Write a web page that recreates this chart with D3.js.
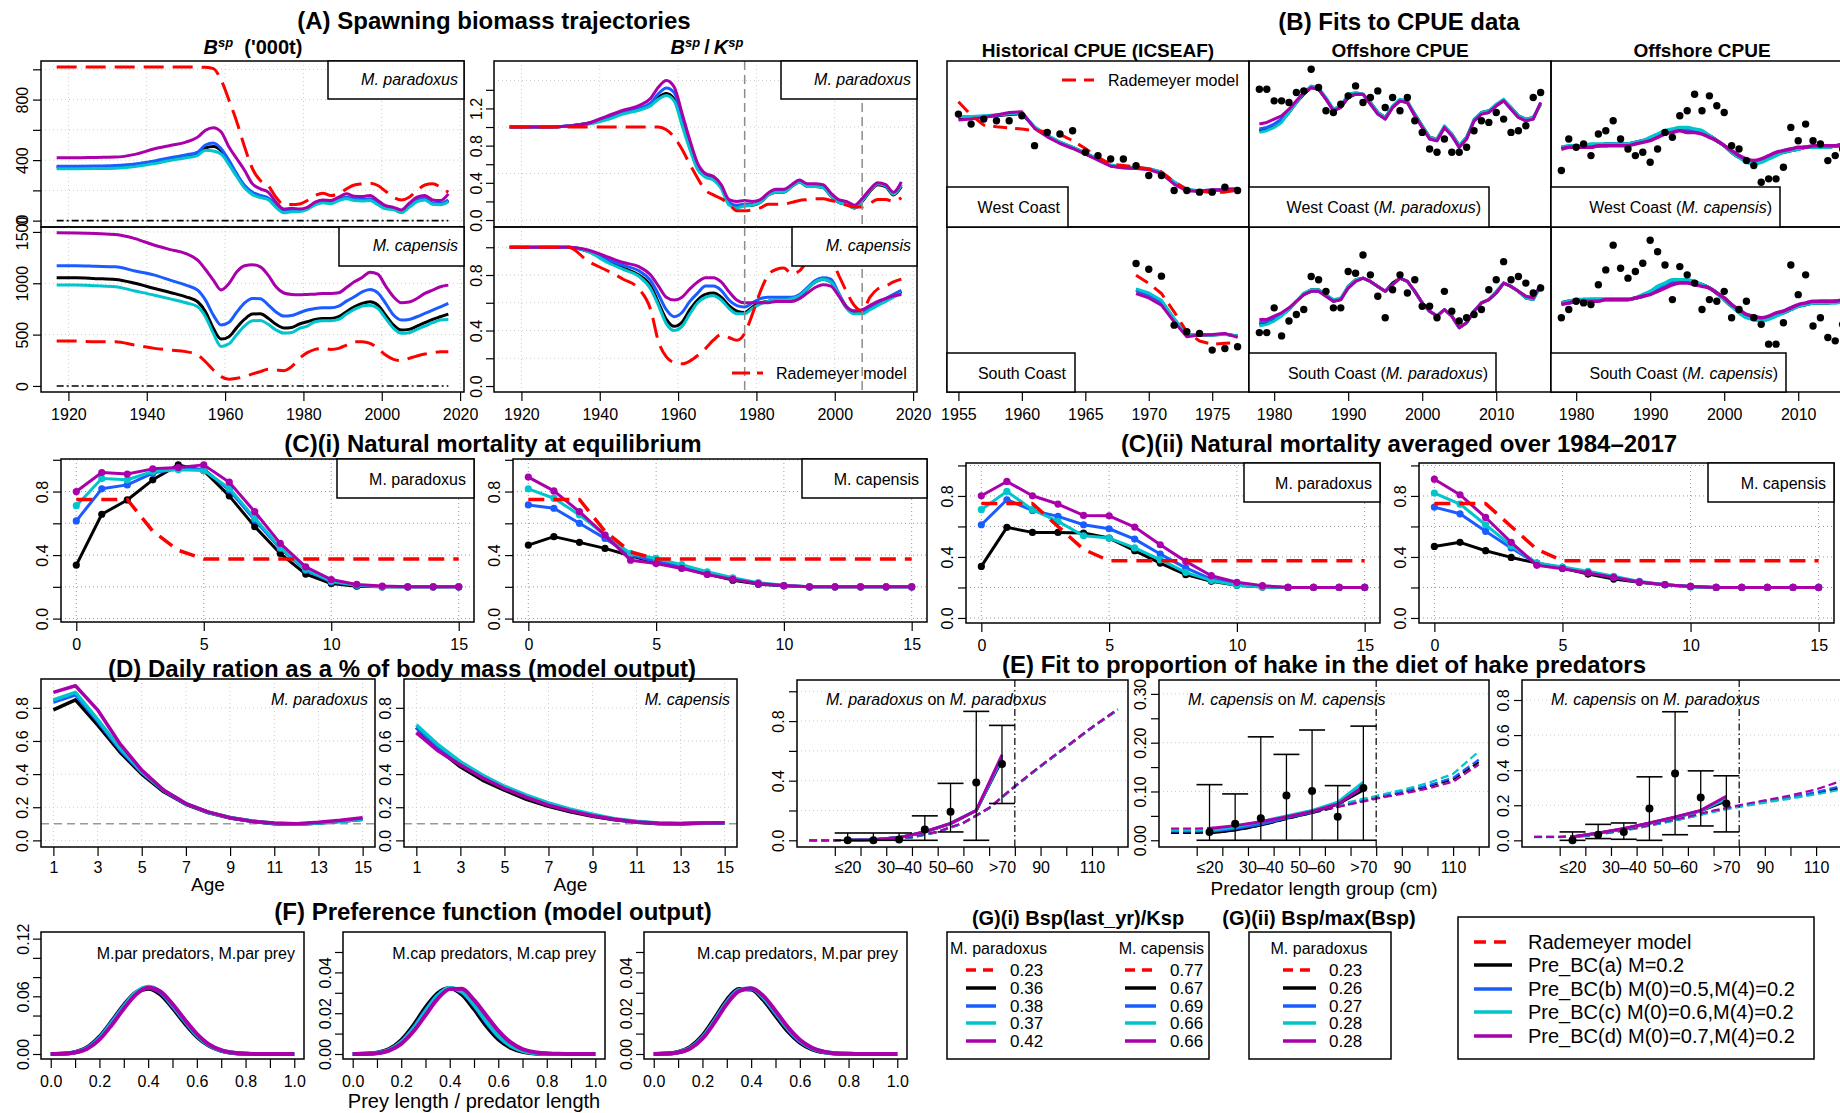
<!DOCTYPE html>
<html>
<head>
<meta charset="utf-8">
<title>Hake multispecies model: fits and outputs</title>
<script src="https://cdn.jsdelivr.net/npm/d3@7"></script>
<style>
body { margin: 0; background: #fff; }
text { font-family: "Liberation Sans", Arial, Helvetica, sans-serif; }
</style>
</head>
<body>
<div id="main"></div>
<script>
var WIDTH = 1840, HEIGHT = 1113;

// colours of the runs (Rademeyer, a, b, c, d)
var colRad = "#ff0000", colA = "#000000", colB = "#1a5cff", colC = "#00c5cd", colD = "#aa00aa";
var runColors = [colA, colB, colC, colD];
var runNames = ["Rademeyer model", "Pre_BC(a) M=0.2", "Pre_BC(b) M(0)=0.5,M(4)=0.2",
	"Pre_BC(c) M(0)=0.6,M(4)=0.2", "Pre_BC(d) M(0)=0.7,M(4)=0.2"];

// ---------- (A) spawning biomass ----------
var yearsA = [1917,1922,1927,1932,1937,1942,1946,1950,1953,1955,1957,1959,1961,1963,1965,1967,1969,1971,1973,1975,
	1977,1979,1981,1983,1985,1987,1989,1991,1993,1995,1997,1999,2001,2003,2005,2007,2009,2011,2013,2015,2017];
var bspParRad = [1015,1015,1015,1015,1015,1015,1015,1015,1015,1013,1005,928,796,652,486,343,265,232,155,106,
	106,110,133,166,181,166,177,210,236,243,247,232,194,155,137,155,199,236,243,221,188];
var bspParA = [354,354,355,357,368,390,410,428,445,480,490,462,385,300,225,180,160,145,95,60,
	65,66,80,110,122,117,138,150,138,134,138,110,82,78,56,93,130,142,112,110,132];
var bspParB = [360,360,361,365,375,395,415,434,453,500,513,475,398,309,232,188,166,150,99,66,
	71,71,84,115,128,122,144,155,144,139,144,115,88,84,62,99,137,148,117,115,137];
var bspParC = [343,343,344,347,357,378,398,415,432,465,460,440,370,290,215,172,152,138,88,52,
	58,60,75,105,118,112,132,145,133,130,133,105,78,73,52,88,125,137,108,105,125];
var bspParD = [415,415,418,420,438,475,497,519,552,597,614,586,486,409,331,243,210,188,122,77,
	82,77,88,122,137,133,155,177,161,159,166,133,99,88,71,115,155,166,137,133,177];
var bspCapRad = [437,437,431,431,398,366,350,334,301,236,155,91,65,75,91,117,139,162,155,149,
	188,269,324,356,366,356,366,398,431,431,415,366,301,259,246,269,292,311,324,334,334];
var bspCapA = [1053,1053,1045,1037,1000,949,910,868,820,723,561,456,480,570,650,700,703,660,600,565,
	570,603,625,648,658,658,674,723,771,804,820,787,690,593,544,551,583,616,648,674,700];
var bspCapB = [1170,1170,1165,1160,1120,1079,1030,982,933,836,690,593,620,720,810,852,850,790,720,680,
	685,713,739,755,761,761,777,826,868,917,940,907,804,690,642,648,674,706,739,771,804];
var bspCapC = [982,982,975,966,925,884,848,810,771,674,512,385,410,500,585,635,638,600,545,515,
	520,561,583,625,635,635,648,700,745,777,787,755,658,561,512,518,551,583,616,642,648];
var bspCapD = [1493,1490,1484,1474,1435,1370,1328,1289,1225,1134,1030,935,998,1111,1170,1180,1160,1079,965,905,
	891,888,891,894,901,901,907,959,1014,1056,1108,1089,972,868,810,817,852,901,933,966,982];
var depParRad = [1,1,1,1,1,1,1,1,1,1.0,0.97,0.89,0.76,0.6,0.45,0.32,0.27,0.23,0.17,0.1,
	0.1,0.11,0.13,0.17,0.17,0.17,0.19,0.21,0.22,0.23,0.23,0.21,0.19,0.16,0.14,0.14,0.18,0.22,0.22,0.2,0.24];
var depParA = [1,1,1,1.01,1.04,1.09,1.15,1.19,1.24,1.32,1.36,1.3,1.05,0.78,0.56,0.47,0.44,0.35,0.18,0.15,
	0.16,0.16,0.19,0.27,0.3,0.3,0.36,0.41,0.36,0.36,0.35,0.26,0.19,0.17,0.13,0.2,0.31,0.38,0.36,0.27,0.36];
var depParB = [1,1,1,1.01,1.04,1.1,1.16,1.2,1.26,1.36,1.42,1.37,1.1,0.82,0.58,0.48,0.45,0.36,0.19,0.16,
	0.17,0.17,0.2,0.28,0.31,0.31,0.37,0.42,0.37,0.37,0.36,0.27,0.2,0.18,0.14,0.21,0.32,0.39,0.37,0.28,0.38];
var depParC = [1,1,1,1.01,1.03,1.08,1.14,1.18,1.23,1.3,1.34,1.28,1.02,0.76,0.54,0.46,0.43,0.34,0.16,0.13,
	0.15,0.16,0.19,0.27,0.3,0.3,0.36,0.41,0.36,0.36,0.35,0.26,0.19,0.17,0.13,0.21,0.32,0.39,0.37,0.28,0.38];
var depParD = [1,1,1,1.01,1.04,1.12,1.18,1.23,1.31,1.43,1.5,1.43,1.15,0.86,0.61,0.5,0.47,0.38,0.22,0.2,
	0.21,0.2,0.22,0.29,0.33,0.33,0.38,0.43,0.39,0.39,0.38,0.29,0.22,0.2,0.16,0.23,0.33,0.4,0.38,0.3,0.41];
var depCapRad = [1,1,1,1,0.9,0.83,0.77,0.7,0.55,0.32,0.21,0.17,0.16,0.18,0.22,0.27,0.33,0.37,0.35,0.33,
	0.38,0.52,0.68,0.8,0.84,0.85,0.81,0.83,0.9,0.95,0.96,0.92,0.8,0.68,0.58,0.54,0.64,0.7,0.72,0.75,0.77];
var depCapA = [1,1,1,1,0.97,0.9,0.85,0.8,0.72,0.6,0.48,0.43,0.46,0.55,0.62,0.66,0.67,0.64,0.58,0.54,
	0.53,0.57,0.6,0.61,0.62,0.62,0.63,0.65,0.7,0.75,0.77,0.75,0.66,0.57,0.53,0.53,0.56,0.59,0.62,0.65,0.68];
var depCapB = [1,1,1,1,0.97,0.91,0.87,0.83,0.76,0.66,0.55,0.5,0.53,0.61,0.67,0.72,0.72,0.69,0.62,0.58,
	0.57,0.6,0.63,0.64,0.64,0.64,0.64,0.66,0.71,0.76,0.78,0.77,0.67,0.57,0.54,0.54,0.57,0.6,0.63,0.66,0.69];
var depCapC = [1,1,1,1,0.97,0.89,0.84,0.79,0.7,0.58,0.45,0.4,0.43,0.52,0.6,0.64,0.65,0.62,0.56,0.52,
	0.52,0.56,0.59,0.61,0.62,0.62,0.63,0.65,0.7,0.75,0.77,0.75,0.66,0.56,0.52,0.52,0.55,0.58,0.61,0.64,0.67];
var depCapD = [1,1,1,1,0.98,0.93,0.89,0.86,0.8,0.72,0.64,0.62,0.64,0.7,0.75,0.78,0.78,0.75,0.68,0.62,
	0.6,0.6,0.6,0.6,0.61,0.61,0.61,0.63,0.67,0.71,0.73,0.72,0.65,0.57,0.54,0.55,0.58,0.61,0.63,0.65,0.66];

// ---------- (B) CPUE (relative index, 0 = panel floor, 1 = panel top) ----------
var yearsHistW = [1955,1956,1957,1958,1959,1960,1961,1962,1963,1964,1965,1966,1967,1968,1969,1970,1971,1972,1973,1974,1975,1976,1977];
var histWcObs = [0.68,0.62,0.65,0.64,0.64,0.67,0.49,0.57,0.56,0.58,0.45,0.43,0.41,0.41,0.37,0.31,0.31,0.22,0.22,0.21,0.21,0.24,0.22];
var histWcRad = [0.754,0.674,0.614,0.604,0.597,0.59,0.58,0.575,0.558,0.52,0.473,0.42,0.378,0.37,0.362,0.35,0.332,0.272,0.226,0.215,0.208,0.21,0.221];
var histWcA = [0.66,0.66,0.665,0.67,0.678,0.683,0.6,0.55,0.51,0.48,0.445,0.408,0.37,0.36,0.356,0.35,0.33,0.27,0.225,0.215,0.22,0.225,0.232];
var histWcB = [0.665,0.663,0.667,0.672,0.68,0.686,0.6,0.548,0.508,0.477,0.442,0.405,0.368,0.358,0.354,0.348,0.326,0.265,0.222,0.216,0.222,0.226,0.231];
var histWcC = [0.665,0.665,0.67,0.676,0.683,0.688,0.604,0.553,0.512,0.481,0.447,0.41,0.373,0.362,0.358,0.352,0.332,0.272,0.228,0.218,0.223,0.227,0.234];
var histWcD = [0.644,0.65,0.66,0.675,0.69,0.694,0.594,0.543,0.503,0.473,0.439,0.402,0.366,0.356,0.352,0.346,0.322,0.258,0.217,0.217,0.225,0.225,0.229];
var yearsHistS = [1969,1970,1971,1972,1973,1974,1975,1976,1977];
var histScObs = [0.779,0.744,0.702,0.405,0.365,0.355,0.254,0.264,0.274];
var histScRad = [0.708,0.658,0.597,0.486,0.365,0.309,0.29,0.295,0.298];
var histScA = [0.621,0.595,0.55,0.44,0.345,0.345,0.345,0.35,0.34];
var histScB = [0.615,0.588,0.543,0.435,0.342,0.345,0.347,0.352,0.337];
var histScC = [0.625,0.6,0.556,0.446,0.348,0.347,0.346,0.35,0.34];
var histScD = [0.597,0.57,0.526,0.425,0.335,0.345,0.349,0.355,0.331];

var yearsOff = [1978,1979,1980,1981,1982,1983,1984,1985,1986,1987,1988,1989,1990,1991,1992,1993,1994,1995,1996,1997,
	1998,1999,2000,2001,2002,2003,2004,2005,2006,2007,2008,2009,2010,2011,2012,2013,2014,2015,2016];
var offWcParObs = [0.83,0.83,0.76,0.76,0.75,0.81,0.82,0.95,0.84,0.70,0.69,0.74,0.79,0.85,0.75,0.78,0.82,0.72,0.78,0.70,
	0.78,0.64,0.57,0.47,0.45,0.53,0.45,0.45,0.48,0.58,0.64,0.63,0.69,0.65,0.57,0.58,0.61,0.78,0.81];
var offWcParA = [0.58,0.59,0.61,0.64,0.69,0.75,0.80,0.84,0.83,0.77,0.71,0.72,0.78,0.80,0.80,0.75,0.69,0.66,0.72,0.76,
	0.75,0.68,0.61,0.54,0.53,0.60,0.56,0.49,0.54,0.64,0.69,0.70,0.73,0.76,0.72,0.67,0.65,0.66,0.74];
var offWcParB = [0.59,0.60,0.62,0.65,0.70,0.75,0.81,0.84,0.83,0.77,0.70,0.72,0.79,0.80,0.80,0.74,0.68,0.65,0.72,0.76,
	0.75,0.67,0.60,0.53,0.52,0.60,0.55,0.48,0.53,0.64,0.68,0.69,0.73,0.76,0.71,0.66,0.64,0.65,0.75];
var offWcParC = [0.57,0.58,0.60,0.63,0.69,0.75,0.81,0.85,0.84,0.78,0.71,0.73,0.80,0.81,0.80,0.75,0.69,0.66,0.73,0.77,
	0.76,0.68,0.61,0.54,0.53,0.61,0.56,0.49,0.54,0.65,0.69,0.70,0.74,0.77,0.72,0.67,0.65,0.66,0.74];
var offWcParD = [0.62,0.63,0.65,0.67,0.71,0.76,0.81,0.84,0.83,0.77,0.70,0.72,0.79,0.80,0.80,0.74,0.68,0.65,0.72,0.76,
	0.75,0.67,0.60,0.53,0.52,0.60,0.55,0.48,0.53,0.64,0.68,0.69,0.73,0.76,0.71,0.66,0.64,0.65,0.75];
var offScParObs = [0.36,0.36,0.51,0.34,0.43,0.47,0.50,0.70,0.68,0.61,0.51,0.51,0.73,0.72,0.83,0.71,0.58,0.45,0.62,0.71,
	0.60,0.68,0.52,0.52,0.45,0.61,0.49,0.43,0.45,0.47,0.50,0.62,0.68,0.79,0.68,0.70,0.66,0.60,0.63];
var offScParA = [0.41,0.42,0.44,0.47,0.50,0.55,0.59,0.62,0.62,0.59,0.55,0.56,0.64,0.68,0.69,0.67,0.64,0.61,0.66,0.69,
	0.67,0.61,0.54,0.49,0.46,0.50,0.46,0.39,0.42,0.49,0.54,0.56,0.60,0.66,0.64,0.61,0.57,0.56,0.65];
var offScParB = [0.42,0.43,0.45,0.47,0.50,0.55,0.59,0.61,0.61,0.58,0.55,0.56,0.63,0.67,0.69,0.67,0.64,0.61,0.65,0.69,
	0.67,0.61,0.54,0.49,0.46,0.50,0.46,0.39,0.42,0.49,0.54,0.56,0.60,0.66,0.64,0.61,0.58,0.57,0.65];
var offScParC = [0.40,0.41,0.43,0.46,0.50,0.55,0.60,0.62,0.62,0.59,0.56,0.57,0.64,0.68,0.69,0.67,0.64,0.61,0.65,0.69,
	0.67,0.61,0.54,0.49,0.46,0.50,0.46,0.39,0.42,0.49,0.54,0.56,0.61,0.66,0.64,0.61,0.57,0.56,0.64];
var offScParD = [0.44,0.44,0.46,0.48,0.51,0.55,0.59,0.61,0.61,0.58,0.55,0.56,0.63,0.67,0.69,0.67,0.64,0.61,0.65,0.69,
	0.67,0.61,0.54,0.49,0.46,0.50,0.46,0.39,0.42,0.49,0.54,0.56,0.60,0.66,0.64,0.61,0.58,0.57,0.65];
var offWcCapObs = [0.34,0.53,0.48,0.50,0.43,0.56,0.58,0.64,0.53,0.47,0.43,0.45,0.39,0.47,0.57,0.54,0.67,0.70,0.80,0.70,
	0.79,0.73,0.69,0.49,0.47,0.40,0.37,0.27,0.29,0.29,0.36,0.60,0.52,0.62,0.52,0.50,0.40,0.43,0.47];
var offWcCapA = [0.48,0.48,0.49,0.49,0.49,0.49,0.50,0.50,0.50,0.50,0.51,0.52,0.53,0.55,0.57,0.58,0.59,0.59,0.58,0.57,
	0.55,0.52,0.49,0.45,0.42,0.40,0.39,0.40,0.42,0.44,0.45,0.46,0.47,0.48,0.48,0.48,0.48,0.49,0.49];
var offWcCapB = [0.47,0.48,0.48,0.49,0.49,0.49,0.49,0.50,0.50,0.50,0.51,0.52,0.53,0.55,0.57,0.58,0.59,0.58,0.58,0.57,
	0.55,0.52,0.49,0.46,0.43,0.40,0.39,0.40,0.42,0.44,0.46,0.47,0.47,0.48,0.48,0.49,0.49,0.49,0.50];
var offWcCapC = [0.48,0.49,0.49,0.49,0.50,0.50,0.50,0.50,0.50,0.50,0.51,0.52,0.54,0.56,0.58,0.59,0.60,0.60,0.59,0.58,
	0.55,0.52,0.49,0.45,0.42,0.39,0.38,0.39,0.41,0.43,0.45,0.46,0.47,0.48,0.48,0.48,0.48,0.49,0.49];
var offWcCapD = [0.47,0.48,0.48,0.48,0.48,0.49,0.49,0.49,0.49,0.49,0.50,0.51,0.52,0.54,0.56,0.57,0.58,0.57,0.57,0.56,
	0.54,0.52,0.49,0.46,0.43,0.41,0.40,0.41,0.43,0.45,0.46,0.47,0.48,0.48,0.49,0.49,0.49,0.49,0.50];
var offScCapObs = [0.45,0.50,0.55,0.54,0.53,0.65,0.74,0.89,0.75,0.69,0.73,0.78,0.92,0.85,0.77,0.56,0.76,0.71,0.66,0.50,
	0.56,0.55,0.61,0.45,0.50,0.55,0.45,0.41,0.29,0.29,0.42,0.77,0.59,0.71,0.40,0.45,0.33,0.31,0.41];
var offScCapA = [0.54,0.55,0.55,0.56,0.56,0.56,0.56,0.56,0.56,0.56,0.57,0.58,0.60,0.63,0.65,0.67,0.67,0.67,0.66,0.65,
	0.63,0.60,0.56,0.52,0.49,0.46,0.45,0.44,0.45,0.47,0.48,0.50,0.52,0.53,0.54,0.54,0.54,0.55,0.55];
var offScCapB = [0.54,0.54,0.55,0.55,0.56,0.56,0.56,0.56,0.56,0.56,0.57,0.58,0.60,0.62,0.64,0.66,0.67,0.67,0.66,0.65,
	0.63,0.60,0.57,0.53,0.49,0.46,0.45,0.44,0.45,0.47,0.49,0.51,0.52,0.53,0.54,0.55,0.55,0.55,0.55];
var offScCapC = [0.54,0.55,0.56,0.56,0.56,0.56,0.56,0.56,0.56,0.56,0.57,0.59,0.61,0.64,0.66,0.68,0.68,0.68,0.67,0.65,
	0.63,0.60,0.56,0.52,0.48,0.45,0.44,0.43,0.44,0.46,0.48,0.50,0.52,0.53,0.54,0.54,0.54,0.54,0.55];
var offScCapD = [0.53,0.54,0.55,0.55,0.55,0.55,0.56,0.56,0.56,0.56,0.57,0.58,0.59,0.61,0.63,0.65,0.66,0.66,0.65,0.64,
	0.63,0.60,0.57,0.53,0.50,0.47,0.46,0.45,0.46,0.48,0.49,0.51,0.53,0.54,0.55,0.55,0.55,0.55,0.56];

// ---------- (C) natural mortality by age ----------
var ages0 = [0,1,2,3,4,5,6,7,8,9,10,11,12,13,14,15];
var mEqParRad = [0.75,0.75,0.75,0.55,0.43,0.375,0.375,0.375,0.375,0.375,0.375,0.375,0.375,0.375,0.375,0.375];
var mEqParA = [0.337,0.657,0.747,0.874,0.968,0.932,0.773,0.579,0.41,0.28,0.221,0.204,0.2,0.2,0.2,0.2];
var mEqParB = [0.615,0.817,0.842,0.916,0.947,0.941,0.81,0.621,0.442,0.305,0.231,0.21,0.2,0.2,0.2,0.2];
var mEqParC = [0.711,0.882,0.874,0.926,0.937,0.932,0.821,0.632,0.449,0.31,0.236,0.21,0.2,0.2,0.2,0.2];
var mEqParD = [0.8,0.92,0.91,0.943,0.951,0.968,0.859,0.673,0.474,0.326,0.246,0.215,0.205,0.2,0.2,0.2];
var mEqCapRad = [0.75,0.75,0.75,0.55,0.42,0.375,0.375,0.375,0.375,0.375,0.375,0.375,0.375,0.375,0.375,0.375];
var mEqCapA = [0.463,0.516,0.48,0.442,0.396,0.351,0.32,0.28,0.242,0.217,0.206,0.2,0.2,0.2,0.2,0.2];
var mEqCapB = [0.716,0.695,0.6,0.505,0.4,0.36,0.33,0.285,0.25,0.22,0.207,0.2,0.2,0.2,0.2,0.2];
var mEqCapC = [0.817,0.758,0.653,0.526,0.41,0.379,0.34,0.295,0.257,0.226,0.21,0.2,0.2,0.2,0.2,0.2];
var mEqCapD = [0.891,0.804,0.673,0.526,0.368,0.347,0.316,0.278,0.247,0.221,0.208,0.2,0.2,0.2,0.2,0.2];
var mAvParRad = [0.75,0.75,0.75,0.6,0.45,0.375,0.375,0.375,0.375,0.375,0.375,0.375,0.375,0.375,0.375,0.375];
var mAvParA = [0.338,0.594,0.561,0.561,0.557,0.524,0.441,0.36,0.284,0.24,0.214,0.203,0.2,0.2,0.2,0.2];
var mAvParB = [0.611,0.775,0.705,0.666,0.611,0.585,0.517,0.419,0.328,0.255,0.223,0.207,0.2,0.2,0.2,0.2];
var mAvParC = [0.71,0.83,0.71,0.633,0.539,0.524,0.459,0.382,0.299,0.245,0.214,0.203,0.2,0.2,0.2,0.2];
var mAvParD = [0.801,0.895,0.801,0.747,0.672,0.67,0.596,0.48,0.371,0.277,0.234,0.212,0.2,0.2,0.2,0.2];
var mAvCapRad = [0.75,0.75,0.75,0.6,0.45,0.375,0.375,0.375,0.375,0.375,0.375,0.375,0.375,0.375,0.375,0.375];
var mAvCapA = [0.469,0.496,0.441,0.397,0.36,0.328,0.288,0.255,0.234,0.218,0.207,0.2,0.2,0.2,0.2,0.2];
var mAvCapB = [0.727,0.683,0.568,0.459,0.356,0.332,0.299,0.266,0.236,0.218,0.207,0.2,0.2,0.2,0.2,0.2];
var mAvCapC = [0.819,0.747,0.611,0.474,0.36,0.334,0.306,0.273,0.24,0.218,0.203,0.2,0.2,0.2,0.2,0.2];
var mAvCapD = [0.91,0.808,0.659,0.496,0.345,0.323,0.295,0.266,0.236,0.218,0.207,0.2,0.2,0.2,0.2,0.2];

// ---------- (D) daily ration ----------
var ages1 = [1,2,3,4,5,6,7,8,9,10,11,12,13,14,15];
var rationParA = [0.788,0.848,0.697,0.535,0.4,0.293,0.218,0.168,0.135,0.115,0.101,0.097,0.105,0.115,0.127];
var rationParB = [0.834,0.879,0.72,0.55,0.41,0.3,0.22,0.17,0.137,0.116,0.102,0.098,0.105,0.115,0.128];
var rationParC = [0.848,0.893,0.73,0.56,0.415,0.302,0.222,0.17,0.138,0.117,0.103,0.098,0.105,0.116,0.128];
var rationParD = [0.893,0.933,0.788,0.586,0.424,0.303,0.222,0.172,0.137,0.115,0.105,0.101,0.109,0.121,0.137];
var rationCapA = [0.681,0.549,0.444,0.364,0.303,0.248,0.206,0.172,0.145,0.125,0.111,0.101,0.101,0.105,0.107];
var rationCapB = [0.681,0.562,0.461,0.38,0.317,0.263,0.218,0.182,0.152,0.127,0.111,0.103,0.101,0.103,0.105];
var rationCapC = [0.697,0.576,0.475,0.394,0.327,0.273,0.226,0.188,0.158,0.131,0.115,0.105,0.103,0.105,0.107];
var rationCapD = [0.65,0.539,0.455,0.378,0.313,0.259,0.212,0.178,0.149,0.127,0.111,0.103,0.101,0.105,0.107];
var rationRef = 0.1;

// ---------- (E) hake in diet of hake ----------
var lenObs = [15,25,35,45,55,65,75];
var lenTickLabels = ["\u226420", "30\u201340", "50\u201360", ">70", "90", "110"];
var lenLabelPos = [15, 35, 55, 75, 90, 110];
var lenAll = [0,10,20,30,40,50,60,70,80,90,100,110,120];
var dietPPObs = [0,0,0.005,0.072,0.191,0.387,0.512];
var dietPPLo = [0,0,0,0,0.056,0,0.247];
var dietPPHi = [0.049,0.049,0.049,0.164,0.382,0.865,0.771];
var dietPPFitA = [0,0.004,0.018,0.056,0.112,0.2,0.54];
var dietPPFitB = [0,0.004,0.018,0.056,0.112,0.2,0.55];
var dietPPFitC = [0,0.004,0.018,0.056,0.113,0.2,0.56];
var dietPPFitD = [0,0.004,0.018,0.057,0.114,0.2,0.573];
var dietPPExtA = [0,0,0.001,0.005,0.02,0.055,0.115,0.215,0.36,0.495,0.625,0.755,0.875];
var dietPPExtB = [0,0,0.001,0.005,0.021,0.056,0.116,0.216,0.361,0.497,0.627,0.757,0.877];
var dietPPExtC = [0,0,0.001,0.005,0.021,0.056,0.116,0.216,0.362,0.498,0.628,0.758,0.878];
var dietPPExtD = [0,0,0.001,0.006,0.022,0.058,0.118,0.218,0.364,0.5,0.63,0.76,0.88];
var dietCCObs = [0.017,0.034,0.045,0.092,0.101,0.048,0.107];
var dietCCLo = [0,0,0,0,0,0,0];
var dietCCHi = [0.114,0.095,0.212,0.176,0.226,0.112,0.234];
var dietCCFitA = [0.015,0.021,0.031,0.045,0.057,0.074,0.103];
var dietCCFitB = [0.018,0.024,0.033,0.046,0.058,0.076,0.108];
var dietCCFitC = [0.02,0.027,0.038,0.05,0.061,0.078,0.119];
var dietCCFitD = [0.024,0.03,0.038,0.048,0.059,0.074,0.11];
var dietCCExtA = [0.015,0.015,0.017,0.025,0.037,0.05,0.062,0.075,0.087,0.098,0.11,0.125,0.16];
var dietCCExtB = [0.018,0.018,0.02,0.028,0.039,0.051,0.063,0.077,0.089,0.1,0.112,0.128,0.165];
var dietCCExtC = [0.02,0.02,0.022,0.029,0.04,0.052,0.065,0.079,0.091,0.103,0.117,0.136,0.182];
var dietCCExtD = [0.024,0.024,0.026,0.032,0.042,0.052,0.063,0.074,0.085,0.095,0.106,0.12,0.155];
var dietCPObs = [0,0.032,0.048,0.181,0.381,0.244,0.21];
var dietCPLo = [0,0.01,0.006,0,0.032,0.082,0.048];
var dietCPHi = [0.048,0.091,0.099,0.362,0.733,0.396,0.368];
var dietCPFitA = [0.019,0.04,0.065,0.097,0.13,0.168,0.225];
var dietCPFitB = [0.019,0.041,0.066,0.098,0.131,0.169,0.235];
var dietCPFitC = [0.018,0.04,0.065,0.097,0.13,0.168,0.24];
var dietCPFitD = [0.02,0.042,0.067,0.099,0.133,0.171,0.251];
var dietCPExtA = [0.019,0.019,0.025,0.045,0.07,0.1,0.13,0.165,0.195,0.22,0.243,0.27,0.3];
var dietCPExtB = [0.02,0.02,0.026,0.046,0.071,0.101,0.132,0.167,0.197,0.223,0.247,0.275,0.31];
var dietCPExtC = [0.018,0.018,0.024,0.044,0.068,0.098,0.128,0.162,0.19,0.215,0.238,0.262,0.29];
var dietCPExtD = [0.02,0.02,0.026,0.046,0.072,0.103,0.135,0.17,0.2,0.228,0.256,0.29,0.34];

// ---------- (F) preference function ----------
var ratio = [0,0.05,0.1,0.15,0.2,0.25,0.3,0.35,0.4,0.45,0.5,0.55,0.6,0.65,0.7,0.75,0.8,0.85,0.9,0.95,1];
var prefPPA = [0,0.0003,0.002,0.007,0.018,0.034,0.051,0.064,0.068,0.062,0.048,0.032,0.018,0.0085,0.0033,0.001,0.0002,0,0,0,0];
var prefPPB = [0,0.0002,0.0018,0.0064,0.017,0.033,0.05,0.064,0.069,0.064,0.05,0.034,0.019,0.009,0.0036,0.0012,0.0003,0,0,0,0];
var prefPPC = [0,0.0002,0.0017,0.006,0.016,0.032,0.049,0.064,0.07,0.065,0.051,0.035,0.02,0.0095,0.0038,0.0012,0.0003,0,0,0,0];
var prefPPD = [0,0.0002,0.0015,0.0055,0.015,0.03,0.047,0.062,0.069,0.065,0.052,0.036,0.021,0.01,0.004,0.0013,0.0003,0.0001,0,0,0];
var prefCCA = [0,0.0001,0.0006,0.0024,0.0068,0.014,0.0228,0.0298,0.0322,0.0292,0.022,0.0138,0.0072,0.0031,0.0011,0.0003,0.0001,0,0,0,0];
var prefCCB = [0,0.0001,0.0005,0.002,0.006,0.0128,0.0213,0.0288,0.0322,0.0303,0.0238,0.0157,0.0087,0.004,0.0015,0.0005,0.0001,0,0,0,0];
var prefCCC = [0,0.0001,0.0005,0.0019,0.0057,0.0124,0.0208,0.0285,0.0323,0.0306,0.0243,0.0162,0.009,0.0042,0.0016,0.0005,0.0001,0,0,0,0];
var prefCCD = [0,0,0.0004,0.0017,0.005,0.011,0.019,0.027,0.0318,0.032,0.0265,0.019,0.0115,0.0058,0.0024,0.0009,0.0003,0.0001,0,0,0];
var prefCPA = [0,0.0002,0.001,0.0035,0.009,0.0175,0.0265,0.0318,0.0316,0.0265,0.0188,0.0112,0.0056,0.0023,0.0008,0.0002,0,0,0,0,0];
var prefCPB = [0,0.0001,0.0008,0.003,0.0082,0.0165,0.0255,0.0314,0.032,0.0275,0.02,0.0123,0.0063,0.0027,0.001,0.0003,0.0001,0,0,0,0];
var prefCPC = [0,0.0001,0.0008,0.0029,0.008,0.0162,0.0252,0.0313,0.0322,0.0278,0.0204,0.0127,0.0066,0.0029,0.001,0.0003,0.0001,0,0,0,0];
var prefCPD = [0,0.0001,0.0007,0.0027,0.0075,0.0155,0.0245,0.0308,0.0322,0.0285,0.0212,0.0133,0.007,0.0031,0.0011,0.0003,0.0001,0,0,0,0];

// ---------- (G) status tables ----------
var gParLastYr = ["0.23", "0.36", "0.38", "0.37", "0.42"];
var gCapLastYr = ["0.77", "0.67", "0.69", "0.66", "0.66"];
var gParMax = ["0.23", "0.26", "0.27", "0.28", "0.28"];

var gridCol = "#cccccc";
var gridDark = "#9a9a9a";
var runCol5 = [colRad, colA, colB, colC, colD];

// =====================================================================
var canvas = d3.select("#main").append("svg")
	.attr("width", WIDTH)
	.attr("height", HEIGHT);
var defs = canvas.append("defs");
canvas.append("rect").attr("width", WIDTH).attr("height", HEIGHT).attr("fill", "#fff");

var clipCount = 0;
function panel(x0, y0, x1, y1, xd, yd) {
	var p = {x0: x0, y0: y0, x1: x1, y1: y1};
	p.x = d3.scaleLinear().domain(xd).range([x0, x1]);
	p.y = d3.scaleLinear().domain(yd).range([y1, y0]);
	var id = "clip" + (clipCount++);
	defs.append("clipPath").attr("id", id).append("rect")
		.attr("x", x0).attr("y", y0).attr("width", x1 - x0).attr("height", y1 - y0);
	p.g = canvas.append("g");
	p.plot = p.g.append("g").attr("clip-path", "url(#" + id + ")");
	return p;
}

function frame(p) {
	p.g.append("rect")
		.attr("x", p.x0).attr("y", p.y0)
		.attr("width", p.x1 - p.x0).attr("height", p.y1 - p.y0)
		.attr("fill", "none").attr("stroke", "#000").attr("stroke-width", 1.5);
}

function gridLines(p, xs, ys, col) {
	xs.forEach(function(v) {
		p.plot.append("line")
			.attr("x1", p.x(v)).attr("x2", p.x(v)).attr("y1", p.y0).attr("y2", p.y1)
			.attr("stroke", col).attr("stroke-width", 1).attr("stroke-dasharray", "1,3");
	});
	ys.forEach(function(v) {
		p.plot.append("line")
			.attr("x1", p.x0).attr("x2", p.x1).attr("y1", p.y(v)).attr("y2", p.y(v))
			.attr("stroke", col).attr("stroke-width", 1).attr("stroke-dasharray", "1,3");
	});
}

function series(p, xs, ys, col, w, dash, curve) {
	var line = d3.line()
		.x(function(d, i) { return p.x(xs[i]); })
		.y(function(d) { return p.y(d); });
	if (curve) line.curve(curve);
	p.plot.append("path").datum(ys)
		.attr("d", line)
		.attr("fill", "none")
		.attr("stroke", col)
		.attr("stroke-width", w)
		.attr("stroke-linejoin", "round")
		.attr("stroke-dasharray", dash || null);
}

function runs(p, xs, list, w, dash, curve) {
	list.forEach(function(ys, i) { series(p, xs, ys, runColors[i], w, dash, curve); });
}

function dots(p, xs, ys, col, r) {
	p.plot.selectAll(null).data(ys).enter().append("circle")
		.attr("cx", function(d, i) { return p.x(xs[i]); })
		.attr("cy", function(d) { return p.y(d); })
		.attr("r", r)
		.attr("fill", col);
}

function hRef(p, v, col, w, dash) {
	p.plot.append("line")
		.attr("x1", p.x0).attr("x2", p.x1).attr("y1", p.y(v)).attr("y2", p.y(v))
		.attr("stroke", col).attr("stroke-width", w).attr("stroke-dasharray", dash);
}

function vRef(p, v, col, w, dash) {
	p.plot.append("line")
		.attr("x1", p.x(v)).attr("x2", p.x(v)).attr("y1", p.y0).attr("y2", p.y1)
		.attr("stroke", col).attr("stroke-width", w).attr("stroke-dasharray", dash);
}

function yAxis(p, ticks, labels, size, off) {
	var ax = d3.axisLeft(p.y).tickValues(ticks).tickSize(8).tickSizeOuter(0)
		.tickFormat(function(d, i) { return labels[i]; });
	var g = p.g.append("g").attr("transform", "translate(" + p.x0 + ",0)").call(ax)
		.attr("font-size", null).attr("font-family", null);
	g.select(".domain").remove();
	g.selectAll("line").attr("stroke", "#000").attr("stroke-width", 1.2);
	g.selectAll("text")
		.attr("transform", "rotate(-90)")
		.attr("x", 0).attr("y", -(off || 13)).attr("dy", 0)
		.attr("text-anchor", "middle")
		.attr("font-size", size || 16)
		.attr("fill", "#000");
}

function xAxis(p, ticks, labels, off, size, tick) {
	var ax = d3.axisBottom(p.x).tickValues(ticks).tickSize(tick === undefined ? 9 : tick).tickSizeOuter(0)
		.tickFormat(function(d, i) { return labels[i]; });
	var g = p.g.append("g").attr("transform", "translate(0," + p.y1 + ")").call(ax)
		.attr("font-size", null).attr("font-family", null);
	g.select(".domain").remove();
	g.selectAll("line").attr("stroke", "#000").attr("stroke-width", 1.2);
	g.selectAll("text").attr("y", off).attr("dy", 0).attr("font-size", size || 16).attr("fill", "#000");
}

function label(x, y, parts, anchor, size, weight) {
	var t = canvas.append("text")
		.attr("x", x).attr("y", y)
		.attr("text-anchor", anchor || "start")
		.attr("font-size", size)
		.attr("font-weight", weight || "normal");
	parts.forEach(function(s) {
		t.append("tspan").attr("font-style", s[1] ? "italic" : "normal").text(s[0]);
	});
	return t;
}

function keyBox(x0, y0, x1, y1) {
	canvas.append("rect")
		.attr("x", x0).attr("y", y0).attr("width", x1 - x0).attr("height", y1 - y0)
		.attr("fill", "#fff").attr("stroke", "#000").attr("stroke-width", 1.5);
}

function keyLine(x0, x1, y, col, w, dash) {
	canvas.append("line")
		.attr("x1", x0).attr("x2", x1).attr("y1", y).attr("y2", y)
		.attr("stroke", col).attr("stroke-width", w).attr("stroke-dasharray", dash || null);
}

function labelsAt(ticks, shown) {
	return ticks.map(function(t) {
		var k = shown.indexOf(t);
		return k < 0 ? "" : String(t);
	});
}

// ======================= (A) =======================
var aTicks = [1920, 1940, 1960, 1980, 2000, 2020];
var mono = d3.curveMonotoneX;
var aLT = panel(41, 61, 464, 227, [1913, 2021], [-42, 1055]);
var aLB = panel(41, 227, 464, 392, [1913, 2021], [-59, 1548]);
var aMT = panel(494, 61, 917, 227, [1913, 2021], [-0.075, 1.71]);
var aMB = panel(494, 227, 917, 392, [1913, 2021], [-0.043, 1.146]);

gridLines(aLT, aTicks, [0, 200, 400, 600, 800, 1000], gridCol);
gridLines(aLB, aTicks, [500, 1000, 1500], gridCol);
gridLines(aMT, aTicks, [0, 0.5, 1, 1.5], gridCol);
gridLines(aMB, aTicks, [0.2, 0.4, 0.6, 0.8, 1.0], gridCol);

[aLT, aLB].forEach(function(p) {
	series(p, [yearsA[0], yearsA[yearsA.length - 1]], [0, 0], "#000", 1.6, "7,3,2,3");
});
runs(aLT, yearsA, [bspParA, bspParB, bspParC, bspParD], 3, null, mono);
series(aLT, yearsA, bspParRad, colRad, 3, "20,9", mono);
runs(aLB, yearsA, [bspCapA, bspCapB, bspCapC, bspCapD], 3, null, mono);
series(aLB, yearsA, bspCapRad, colRad, 3, "20,9", mono);
runs(aMT, yearsA, [depParA, depParB, depParC, depParD], 3, null, mono);
series(aMT, yearsA, depParRad, colRad, 3, "20,9", mono);
runs(aMB, yearsA, [depCapA, depCapB, depCapC, depCapD], 3, null, mono);
series(aMB, yearsA, depCapRad, colRad, 3, "20,9", mono);

[aLT, aLB, aMT, aMB].forEach(frame);
yAxis(aLT, [0, 200, 400, 600, 800, 1000], labelsAt([0, 200, 400, 600, 800, 1000], [0, 400, 800]), 16, 13);
yAxis(aLB, [0, 500, 1000, 1500], ["0", "500", "1000", "1500"], 16, 13);
yAxis(aMT, [0, 0.2, 0.4, 0.6, 0.8, 1.0, 1.2, 1.4], ["0.0", "", "0.4", "", "0.8", "", "1.2", ""], 16, 12);
yAxis(aMB, [0, 0.2, 0.4, 0.6, 0.8, 1.0], ["0.0", "", "0.4", "", "0.8", ""], 16, 12);
xAxis(aLB, aTicks, aTicks.map(String), 28, 16);
xAxis(aMB, aTicks, aTicks.map(String), 28, 16);

keyBox(328, 61, 464, 99);
label(458, 85, [["M. paradoxus", true]], "end", 16);
keyBox(339, 227, 464, 266);
label(458, 251, [["M. capensis", true]], "end", 16);
keyBox(781, 61, 917, 99);
label(911, 85, [["M. paradoxus", true]], "end", 16);
keyBox(792, 227, 917, 266);
label(911, 251, [["M. capensis", true]], "end", 16);

keyLine(732, 763, 373, colRad, 3, "18,7");
label(776, 379, [["Rademeyer model", false]], "start", 16);
vRef(aMT, 1977, "#8c8c8c", 1.5, "9,5");
vRef(aMT, 2007, "#8c8c8c", 1.5, "9,5");
vRef(aMB, 1977, "#8c8c8c", 1.5, "9,5");
vRef(aMB, 2007, "#8c8c8c", 1.5, "9,5");

label(494, 29, [["(A) Spawning biomass trajectories", false]], "middle", 24, "bold");
var st1 = canvas.append("text").attr("x", 253).attr("y", 54).attr("text-anchor", "middle")
	.attr("font-size", 20).attr("font-weight", "bold");
st1.append("tspan").attr("font-style", "italic").text("B");
st1.append("tspan").attr("font-style", "italic").attr("font-size", 13).attr("dy", -7).text("sp");
st1.append("tspan").attr("dy", 7).text("\u00a0\u00a0('000t)");
var st2 = canvas.append("text").attr("x", 707).attr("y", 54).attr("text-anchor", "middle")
	.attr("font-size", 20).attr("font-weight", "bold");
st2.append("tspan").attr("font-style", "italic").text("B");
st2.append("tspan").attr("font-style", "italic").attr("font-size", 13).attr("dy", -7).text("sp");
st2.append("tspan").attr("dy", 7).text("\u2009/\u2009");
st2.append("tspan").attr("font-style", "italic").text("K");
st2.append("tspan").attr("font-style", "italic").attr("font-size", 13).attr("dy", -7).text("sp");

// ======================= (B) =======================
var bHistX = [1954.1, 1977.9], bOffX = [1976.6, 2017.4];
var bWH = panel(947, 61, 1249, 227, bHistX, [0, 1]);
var bSH = panel(947, 227, 1249, 392, bHistX, [0, 1]);
var bWP = panel(1249, 61, 1551, 227, bOffX, [0, 1]);
var bSP = panel(1249, 227, 1551, 392, bOffX, [0, 1]);
var bWC = panel(1551, 61, 1853, 227, bOffX, [0, 1]);
var bSC = panel(1551, 227, 1853, 392, bOffX, [0, 1]);

runs(bWH, yearsHistW, [histWcA, histWcB, histWcC, histWcD], 3);
series(bWH, yearsHistW, histWcRad, colRad, 3, "14,8");
dots(bWH, yearsHistW, histWcObs, "#000", 3.7);
runs(bSH, yearsHistS, [histScA, histScB, histScC, histScD], 3);
series(bSH, yearsHistS, histScRad, colRad, 3, "14,8");
dots(bSH, yearsHistS, histScObs, "#000", 3.7);
runs(bWP, yearsOff, [offWcParA, offWcParB, offWcParC, offWcParD], 3);
dots(bWP, yearsOff, offWcParObs, "#000", 3.7);
runs(bSP, yearsOff, [offScParA, offScParB, offScParC, offScParD], 3);
dots(bSP, yearsOff, offScParObs, "#000", 3.7);
runs(bWC, yearsOff, [offWcCapA, offWcCapB, offWcCapC, offWcCapD], 3.5, null, mono);
dots(bWC, yearsOff, offWcCapObs, "#000", 3.7);
runs(bSC, yearsOff, [offScCapA, offScCapB, offScCapC, offScCapD], 3.5, null, mono);
dots(bSC, yearsOff, offScCapObs, "#000", 3.7);

[bWH, bSH, bWP, bSP, bWC, bSC].forEach(frame);
xAxis(bSH, [1955, 1960, 1965, 1970, 1975], ["1955", "1960", "1965", "1970", "1975"], 28, 16);
xAxis(bSP, [1980, 1990, 2000, 2010], ["1980", "1990", "2000", "2010"], 28, 16);
xAxis(bSC, [1980, 1990, 2000, 2010], ["1980", "1990", "2000", "2010"], 28, 16);

keyLine(1062, 1094, 80, colRad, 3, "14,8");
label(1108, 86, [["Rademeyer model", false]], "start", 16);
keyBox(947, 187, 1068, 227);
label(1060, 213, [["West Coast", false]], "end", 16);
keyBox(947, 353, 1075, 392);
label(1066, 379, [["South Coast", false]], "end", 16);
keyBox(1249, 187, 1489, 227);
label(1481, 213, [["West Coast (", false], ["M. paradoxus", true], [")", false]], "end", 16);
keyBox(1249, 353, 1496, 392);
label(1488, 379, [["South Coast (", false], ["M. paradoxus", true], [")", false]], "end", 16);
keyBox(1551, 187, 1780, 227);
label(1772, 213, [["West Coast (", false], ["M. capensis", true], [")", false]], "end", 16);
keyBox(1551, 353, 1786, 392);
label(1778, 379, [["South Coast (", false], ["M. capensis", true], [")", false]], "end", 16);

label(1399, 30, [["(B) Fits to CPUE data", false]], "middle", 24, "bold");
label(1098, 57, [["Historical CPUE (ICSEAF)", false]], "middle", 19, "bold");
label(1400, 57, [["Offshore CPUE", false]], "middle", 19, "bold");
label(1702, 57, [["Offshore CPUE", false]], "middle", 19, "bold");

// ======================= (C) =======================
var cXd = [-0.6, 15.6];
function mortPanel(x0, x1, y0, y1, yd, rad, list, legText, legX0) {
	var p = panel(x0, y0, x1, y1, cXd, yd);
	gridLines(p, [0, 5, 10, 15], [0, 0.2, 0.4, 0.6, 0.8, 1.0], gridDark);
	list.forEach(function(ys, i) {
		series(p, ages0, ys, runColors[i], 3);
		dots(p, ages0, ys, runColors[i], 3.6);
	});
	series(p, ages0, rad, colRad, 3.5, "16,9");
	frame(p);
	yAxis(p, [0, 0.2, 0.4, 0.6, 0.8, 1.0], ["0.0", "", "0.4", "", "0.8", ""], 16, 13);
	xAxis(p, [0, 5, 10, 15], ["0", "5", "10", "15"], 28, 16);
	keyBox(legX0, y0, x1, y0 + 39);
	label(x1 - 8, y0 + 26, [[legText, false]], "end", 16);
	return p;
}
mortPanel(61, 474, 459, 622, [-0.0215, 1.005], mEqParRad, [mEqParA, mEqParB, mEqParC, mEqParD], "M. paradoxus", 337);
mortPanel(513, 927, 459, 622, [-0.0215, 1.005], mEqCapRad, [mEqCapA, mEqCapB, mEqCapC, mEqCapD], "M. capensis", 802);
mortPanel(966, 1380, 463, 623, [-0.033, 1.016], mAvParRad, [mAvParA, mAvParB, mAvParC, mAvParD], "M. paradoxus", 1244);
mortPanel(1419, 1834, 463, 623, [-0.033, 1.016], mAvCapRad, [mAvCapA, mAvCapB, mAvCapC, mAvCapD], "M. capensis", 1708);
label(493, 452, [["(C)(i) Natural mortality at equilibrium", false]], "middle", 24, "bold");
label(1399, 452, [["(C)(ii) Natural mortality averaged over 1984\u20132017", false]], "middle", 24, "bold");

// ======================= (D) =======================
var dTicks = [1, 3, 5, 7, 9, 11, 13, 15];
function rationPanel(x0, x1, list, legText) {
	var p = panel(x0, 679, x1, 847, [0.44, 15.56], [-0.04, 0.974]);
	gridLines(p, dTicks, [0, 0.2, 0.4, 0.6, 0.8], gridCol);
	hRef(p, rationRef, "#999", 1.5, "8,5");
	runs(p, ages1, list, 3.5);
	frame(p);
	yAxis(p, [0, 0.2, 0.4, 0.6, 0.8], ["0.0", "0.2", "0.4", "0.6", "0.8"], 16, 13);
	xAxis(p, dTicks, dTicks.map(String), 26, 16);
	label(x1 - 7, 705, [[legText, true]], "end", 16);
	label((x0 + x1) / 2, 891, [["Age", false]], "middle", 19);
	return p;
}
rationPanel(41, 375, [rationParA, rationParB, rationParC, rationParD], "M. paradoxus");
rationPanel(404, 737, [rationCapA, rationCapB, rationCapC, rationCapD], "M. capensis");
label(402, 677, [["(D) Daily ration as a % of body mass (model output)", false]], "middle", 24, "bold");

// ======================= (E) =======================
var eXd = [-4.7, 124];
var eTicks = [10, 20, 30, 40, 50, 60, 70, 80, 90, 100, 110, 120];
function dietPanel(x0, x1, yd, yt, yl, gridY, obs, lo, hi, fit, ext, who1, who2) {
	var p = panel(x0, 680, x1, 847, eXd, yd);
	gridLines(p, [], gridY, gridCol);
	ext.forEach(function(ys, i) { series(p, lenAll, ys, runColors[i], 2.2, "8,4"); });
	fit.forEach(function(ys, i) { series(p, lenObs, ys, runColors[i], 3); });
	lenObs.forEach(function(L, i) {
		var cx = p.x(L);
		p.plot.append("line").attr("x1", cx).attr("x2", cx).attr("y1", p.y(lo[i])).attr("y2", p.y(hi[i]))
			.attr("stroke", "#000").attr("stroke-width", 1.3);
		[lo[i], hi[i]].forEach(function(v) {
			p.plot.append("line").attr("x1", cx - 13).attr("x2", cx + 13).attr("y1", p.y(v)).attr("y2", p.y(v))
				.attr("stroke", "#000").attr("stroke-width", 1.6);
		});
	});
	dots(p, lenObs, obs, "#000", 4);
	vRef(p, 80, "#000", 1.2, "7,3,1.5,3");
	frame(p);
	yAxis(p, yt, yl, 16, 13);
	xAxis(p, eTicks, eTicks.map(function() { return ""; }), 26, 16);
	xAxis(p, lenLabelPos, lenTickLabels, 26, 16, 0);
	label(x0 + 29, 705, [[who1, true], [" on ", false], [who2, true]], "start", 16);
	return p;
}
dietPanel(797, 1128, [-0.045, 1.0756], [0, 0.2, 0.4, 0.6, 0.8, 1.0], ["0.0", "", "0.4", "", "0.8", ""],
	[0.2, 0.4, 0.6, 0.8, 1.0], dietPPObs, dietPPLo, dietPPHi,
	[dietPPFitA, dietPPFitB, dietPPFitC, dietPPFitD], [dietPPExtA, dietPPExtB, dietPPExtC, dietPPExtD],
	"M. paradoxus", "M. paradoxus");
dietPanel(1159, 1489, [-0.0138, 0.3285], [0, 0.05, 0.1, 0.15, 0.2, 0.25, 0.3], ["0.00", "", "0.10", "", "0.20", "", "0.30"],
	[0.1, 0.2, 0.3], dietCCObs, dietCCLo, dietCCHi,
	[dietCCFitA, dietCCFitB, dietCCFitC, dietCCFitD], [dietCCExtA, dietCCExtB, dietCCExtC, dietCCExtD],
	"M. capensis", "M. capensis");
dietPanel(1522, 1852, [-0.038, 0.914], [0, 0.2, 0.4, 0.6, 0.8], ["0.0", "0.2", "0.4", "0.6", "0.8"],
	[0.2, 0.4, 0.6, 0.8], dietCPObs, dietCPLo, dietCPHi,
	[dietCPFitA, dietCPFitB, dietCPFitC, dietCPFitD], [dietCPExtA, dietCPExtB, dietCPExtC, dietCPExtD],
	"M. capensis", "M. paradoxus");
label(1324, 673, [["(E) Fit to proportion of hake in the diet of hake predators", false]], "middle", 24, "bold");
label(1324, 895, [["Predator length group (cm)", false]], "middle", 19);

// ======================= (F) =======================
var fTicks = [0, 0.1, 0.2, 0.3, 0.4, 0.5, 0.6, 0.7, 0.8, 0.9, 1.0];
var fLabels = ["0.0", "", "0.2", "", "0.4", "", "0.6", "", "0.8", "", "1.0"];
function prefPanel(x0, x1, yd, yt, yl, list, txt) {
	var p = panel(x0, 932, x1, 1059, [-0.04, 1.04], yd);
	runs(p, ratio, list, 4, null, mono);
	frame(p);
	yAxis(p, yt, yl, 16, 12);
	xAxis(p, fTicks, fLabels, 28, 16);
	label(x1 - 9, 959, [[txt, false]], "end", 16);
	return p;
}
prefPanel(41, 304, [-0.0052, 0.1269], [0, 0.02, 0.04, 0.06, 0.08, 0.1, 0.12], ["0.00", "", "", "0.06", "", "", "0.12"],
	[prefPPA, prefPPB, prefPPC, prefPPD], "M.par predators, M.par prey");
prefPanel(343, 605, [-0.00245, 0.0598], [0, 0.01, 0.02, 0.03, 0.04, 0.05], ["0.00", "", "0.02", "", "0.04", ""],
	[prefCCA, prefCCB, prefCCC, prefCCD], "M.cap predators, M.cap prey");
prefPanel(644, 907, [-0.00245, 0.0598], [0, 0.01, 0.02, 0.03, 0.04, 0.05], ["0.00", "", "0.02", "", "0.04", ""],
	[prefCPA, prefCPB, prefCPC, prefCPD], "M.cap predators, M.par prey");
label(493, 920, [["(F) Preference function (model output)", false]], "middle", 24, "bold");
label(474, 1108, [["Prey length / predator length", false]], "middle", 20);

// ======================= (G) =======================
var gRows = [976, 994, 1012, 1029, 1047];
label(1078, 925, [["(G)(i) Bsp(last_yr)/Ksp", false]], "middle", 20, "bold");
keyBox(947, 932, 1209, 1059);
label(950, 954, [["M. paradoxus", false]], "start", 16);
label(1204, 954, [["M. capensis", false]], "end", 16);
gRows.forEach(function(y, i) {
	keyLine(966, 996, y - 6, runCol5[i], 3.5, i === 0 ? "10,7" : null);
	label(1010, y, [[gParLastYr[i], false]], "start", 17);
	keyLine(1125, 1156, y - 6, runCol5[i], 3.5, i === 0 ? "10,7" : null);
	label(1170, y, [[gCapLastYr[i], false]], "start", 17);
});

label(1319, 925, [["(G)(ii) Bsp/max(Bsp)", false]], "middle", 20, "bold");
keyBox(1249, 932, 1391, 1059);
label(1319, 954, [["M. paradoxus", false]], "middle", 16);
gRows.forEach(function(y, i) {
	keyLine(1283, 1316, y - 6, runCol5[i], 3.5, i === 0 ? "10,7" : null);
	label(1329, y, [[gParMax[i], false]], "start", 17);
});

keyBox(1458, 917, 1814, 1059);
[942, 965, 989, 1012, 1036].forEach(function(y, i) {
	keyLine(1474, 1512, y, runCol5[i], 3.5, i === 0 ? "12,8" : null);
	label(1528, y + 7, [[runNames[i], false]], "start", 20);
});
</script>
</body>
</html>
